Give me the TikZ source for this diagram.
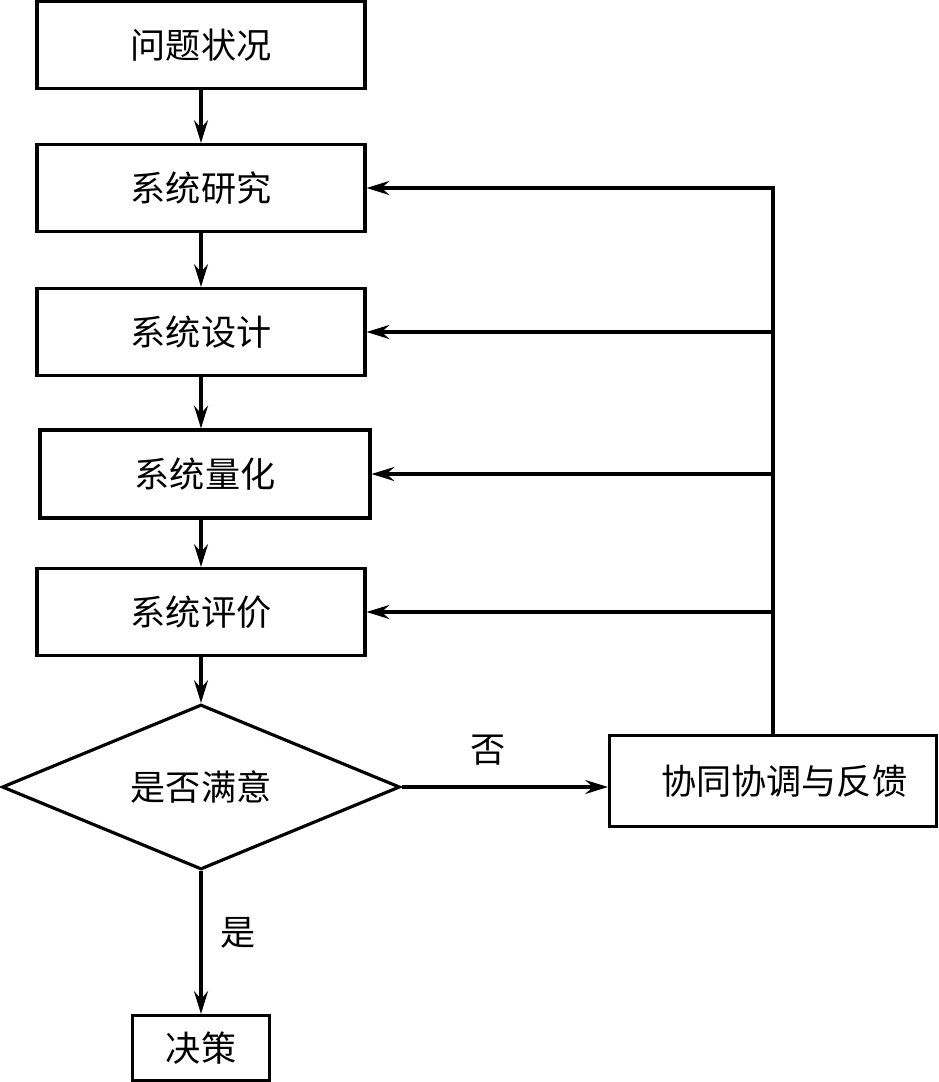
\documentclass[tikz,border=0pt]{standalone}
\usepackage{fontspec}
\newfontfamily\cjk{Noto Sans CJK SC}
\usepackage{tikz}
\usetikzlibrary{arrows.meta,positioning,shapes.geometric}

\tikzset{
  box/.style={draw,line width=1.8pt,inner sep=0pt,font=\cjk\fontsize{20}{24}\selectfont},
  decide/.style={draw,diamond,aspect=2.4,line width=1.8pt,inner sep=0pt,minimum width=7.96cm,minimum height=3.3cm,font=\cjk\fontsize{20}{24}\selectfont},
  lbl/.style={font=\cjk\fontsize{20}{24}\selectfont},
  arr/.style={-{Stealth[length=13pt,width=8pt,inset=4.5pt]},line width=1.8pt}
}

\begin{document}
\begin{tikzpicture}[x=0.02cm,y=-0.02cm]
\useasboundingbox (0,0) rectangle (939,1082);
% main chain
\node[box,minimum width=6.56cm,minimum height=1.74cm] (q) at (201,45) {问题状况};
\node[box,minimum width=6.56cm,minimum height=1.74cm] (r) at (201,188) {系统研究};
\node[box,minimum width=6.56cm,minimum height=1.74cm] (d) at (201,332) {系统设计};
\node[box,minimum width=6.6cm,minimum height=1.76cm] (l) at (205,474) {系统量化};
\node[box,minimum width=6.56cm,minimum height=1.74cm] (e) at (201,612) {系统评价};
\node[decide] (s) at (201,787) {是否满意};
\node[box,minimum width=6.54cm,minimum height=1.82cm] (f) at (773,781) {\hspace*{0.45cm}协同协调与反馈};
\node[box,minimum width=2.74cm,minimum height=1.3cm] (j) at (201,1048) {决策};
\node[lbl] (no) at (488,750) {否};
\node[lbl] (yes) at (238,933) {是};

\draw[arr] (q.south) -- (r.north);
\draw[arr] (r.south) -- (d.north);
\draw[arr] (d.south) -- (d.south |- l.north);
\draw[arr] (d.south |- l.south) -- (e.north);
\draw[arr] (e.south) -- (s.north);
\draw[arr] (s.south) -- (j.north);
\draw[arr] (s.east) -- (s.east -| f.west);

% feedback
\draw[arr] (f.north) |- (r.east);
\draw[arr] (f.north |- d.east) -- (d.east);
\draw[arr] (f.north |- l.east) -- (l.east);
\draw[arr] (f.north |- e.east) -- (e.east);
\end{tikzpicture}
\end{document}
